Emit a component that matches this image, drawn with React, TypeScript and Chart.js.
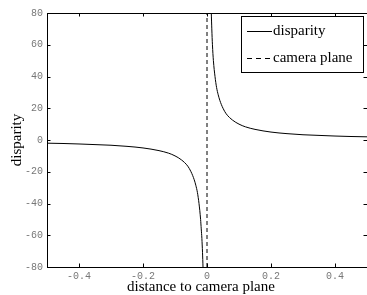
import React, { useEffect, useRef } from "react";
import { Chart, registerables } from "chart.js";

Chart.register(...registerables);

const leftX = [-0.5, -0.45, -0.4, -0.35, -0.3, -0.25, -0.2, -0.15, -0.12, -0.1, -0.08, -0.06, -0.05, -0.04, -0.035, -0.03, -0.025, -0.02, -0.018, -0.016, -0.014, -0.0125, -0.011];
const leftY = [-2.0, -2.2, -2.5, -2.9, -3.3, -4.0, -5.0, -6.7, -8.3, -10, -12.5, -16.5, -20, -25, -28.5, -33, -40, -50, -56, -62, -71, -80, -91];
const rightX = [0.012, 0.0134, 0.015, 0.017, 0.02, 0.025, 0.03, 0.035, 0.04, 0.05, 0.06, 0.08, 0.1, 0.12, 0.15, 0.2, 0.25, 0.3, 0.35, 0.4, 0.45, 0.5];
const rightY = [88, 80, 70, 60, 50, 40, 33, 28.5, 25, 20, 16.5, 12.5, 10, 8.3, 6.7, 5, 4, 3.3, 2.9, 2.5, 2.2, 2.0];
const planeX = [0, 0];
const planeY = [-80, 80];

const xTickValues = [-0.4, -0.2, 0, 0.2, 0.4];
const xTickLabels = ["-0.4", "-0.2", "0", "0.2", "0.4"];
const yTickValues = [80, 60, 40, 20, 0, -20, -40, -60, -80];
const yTickLabels = ["80", "60", "40", "20", "0", "-20", "-40", "-60", "-80"];

const legendLabels = ["disparity", "camera plane"];
const xTitle = "distance to camera plane";
const yTitle = "disparity";

const SERIF = "'Liberation Serif', 'DejaVu Serif', serif";

const framePlugin = {
  id: "frame",
  afterDatasetsDraw(chart: any) {
    const ctx = chart.ctx as CanvasRenderingContext2D;
    const a = chart.chartArea;
    const xs = chart.scales.x;
    const ys = chart.scales.y;
    ctx.save();
    ctx.strokeStyle = "#000";
    ctx.lineWidth = 1;
    ctx.setLineDash([]);
    ctx.strokeRect(a.left + 0.5, a.top + 0.5, a.right - a.left, a.bottom - a.top);
    const tl = 3.5;
    ctx.beginPath();
    xTickValues.forEach((v) => {
      const px = Math.round(xs.getPixelForValue(v)) + 0.5;
      ctx.moveTo(px, a.bottom);
      ctx.lineTo(px, a.bottom - tl);
      ctx.moveTo(px, a.top);
      ctx.lineTo(px, a.top + tl);
    });
    yTickValues.forEach((v) => {
      const py = Math.round(ys.getPixelForValue(v)) + 0.5;
      ctx.moveTo(a.left, py);
      ctx.lineTo(a.left + tl, py);
      ctx.moveTo(a.right, py);
      ctx.lineTo(a.right - tl, py);
    });
    ctx.stroke();

    // legend box
    const bx = 241.5, by = 16.5, bw = 122, bh = 56;
    ctx.fillStyle = "#fff";
    ctx.fillRect(bx, by, bw, bh);
    ctx.strokeRect(bx, by, bw, bh);
    ctx.beginPath();
    ctx.moveTo(247, 31.5);
    ctx.lineTo(272, 31.5);
    ctx.stroke();
    ctx.setLineDash([5, 4]);
    ctx.beginPath();
    ctx.moveTo(247, 58.5);
    ctx.lineTo(272, 58.5);
    ctx.stroke();
    ctx.setLineDash([]);
    ctx.fillStyle = "#000";
    ctx.font = `15px ${SERIF}`;
    ctx.textAlign = "left";
    ctx.textBaseline = "alphabetic";
    ctx.fillText(legendLabels[0], 273, 35);
    ctx.fillText(legendLabels[1], 273, 62);

    // axis titles
    ctx.textAlign = "center";
    ctx.fillText(xTitle, 201, 291);
    ctx.save();
    ctx.translate(21, 140);
    ctx.rotate(-Math.PI / 2);
    ctx.fillText(yTitle, 0, 0);
    ctx.restore();
    ctx.restore();
  },
};

export default function App() {
  const ref = useRef<HTMLCanvasElement>(null);
  useEffect(() => {
    if (!ref.current) return;
    const chart = new Chart(ref.current, {
      type: "line",
      data: {
        datasets: [
          {
            label: legendLabels[0],
            data: leftX.map((x, i) => ({ x, y: leftY[i] })),
            borderColor: "#000",
            borderWidth: 1,
            pointRadius: 0,
            cubicInterpolationMode: "monotone",
            fill: false,
          },
          {
            label: legendLabels[0] + " ",
            data: rightX.map((x, i) => ({ x, y: rightY[i] })),
            borderColor: "#000",
            borderWidth: 1,
            pointRadius: 0,
            cubicInterpolationMode: "monotone",
            fill: false,
          },
          {
            label: legendLabels[1],
            data: planeX.map((x, i) => ({ x, y: planeY[i] })),
            borderColor: "#000",
            borderWidth: 1,
            borderDash: [4, 3],
            pointRadius: 0,
            fill: false,
          },
        ],
      },
      options: {
        responsive: false,
        animation: false,
        devicePixelRatio: 1,
        layout: { padding: { top: 13, right: 2, bottom: 0, left: 0 } },
        plugins: { legend: { display: false }, tooltip: { enabled: false } },
        scales: {
          x: {
            type: "linear",
            min: -0.5,
            max: 0.5,
            afterBuildTicks: (s: any) => {
              s.ticks = xTickValues.map((v) => ({ value: v }));
            },
            afterFit: (s: any) => {
              s.height = 28;
            },
            grid: { display: false, drawTicks: false },
            border: { display: false },
            ticks: {
              padding: 3,
              color: "#777",
              font: { family: "'Liberation Mono', 'DejaVu Sans Mono', monospace", size: 10 },
              maxRotation: 0,
              autoSkip: false,
              callback: (_v: any, i: number) => xTickLabels[i],
            },
          },
          y: {
            type: "linear",
            min: -80,
            max: 80,
            afterBuildTicks: (s: any) => {
              s.ticks = yTickValues.map((v) => ({ value: v }));
            },
            afterFit: (s: any) => {
              s.width = 47;
            },
            grid: { display: false, drawTicks: false },
            border: { display: false },
            ticks: {
              padding: 4,
              color: "#777",
              font: { family: "'Liberation Mono', 'DejaVu Sans Mono', monospace", size: 10 },
              autoSkip: false,
              callback: (_v: any, i: number) => yTickLabels[i],
            },
          },
        },
      },
      plugins: [framePlugin],
    } as any);
    return () => chart.destroy();
  }, []);
  return (
    <div style={{ position: "absolute", left: 0, top: 0, width: 367, height: 295, overflow: "hidden", background: "#fff" }}>
      <canvas ref={ref} width={369} height={295} style={{ width: 369, height: 295, display: "block" }} />
    </div>
  );
}
